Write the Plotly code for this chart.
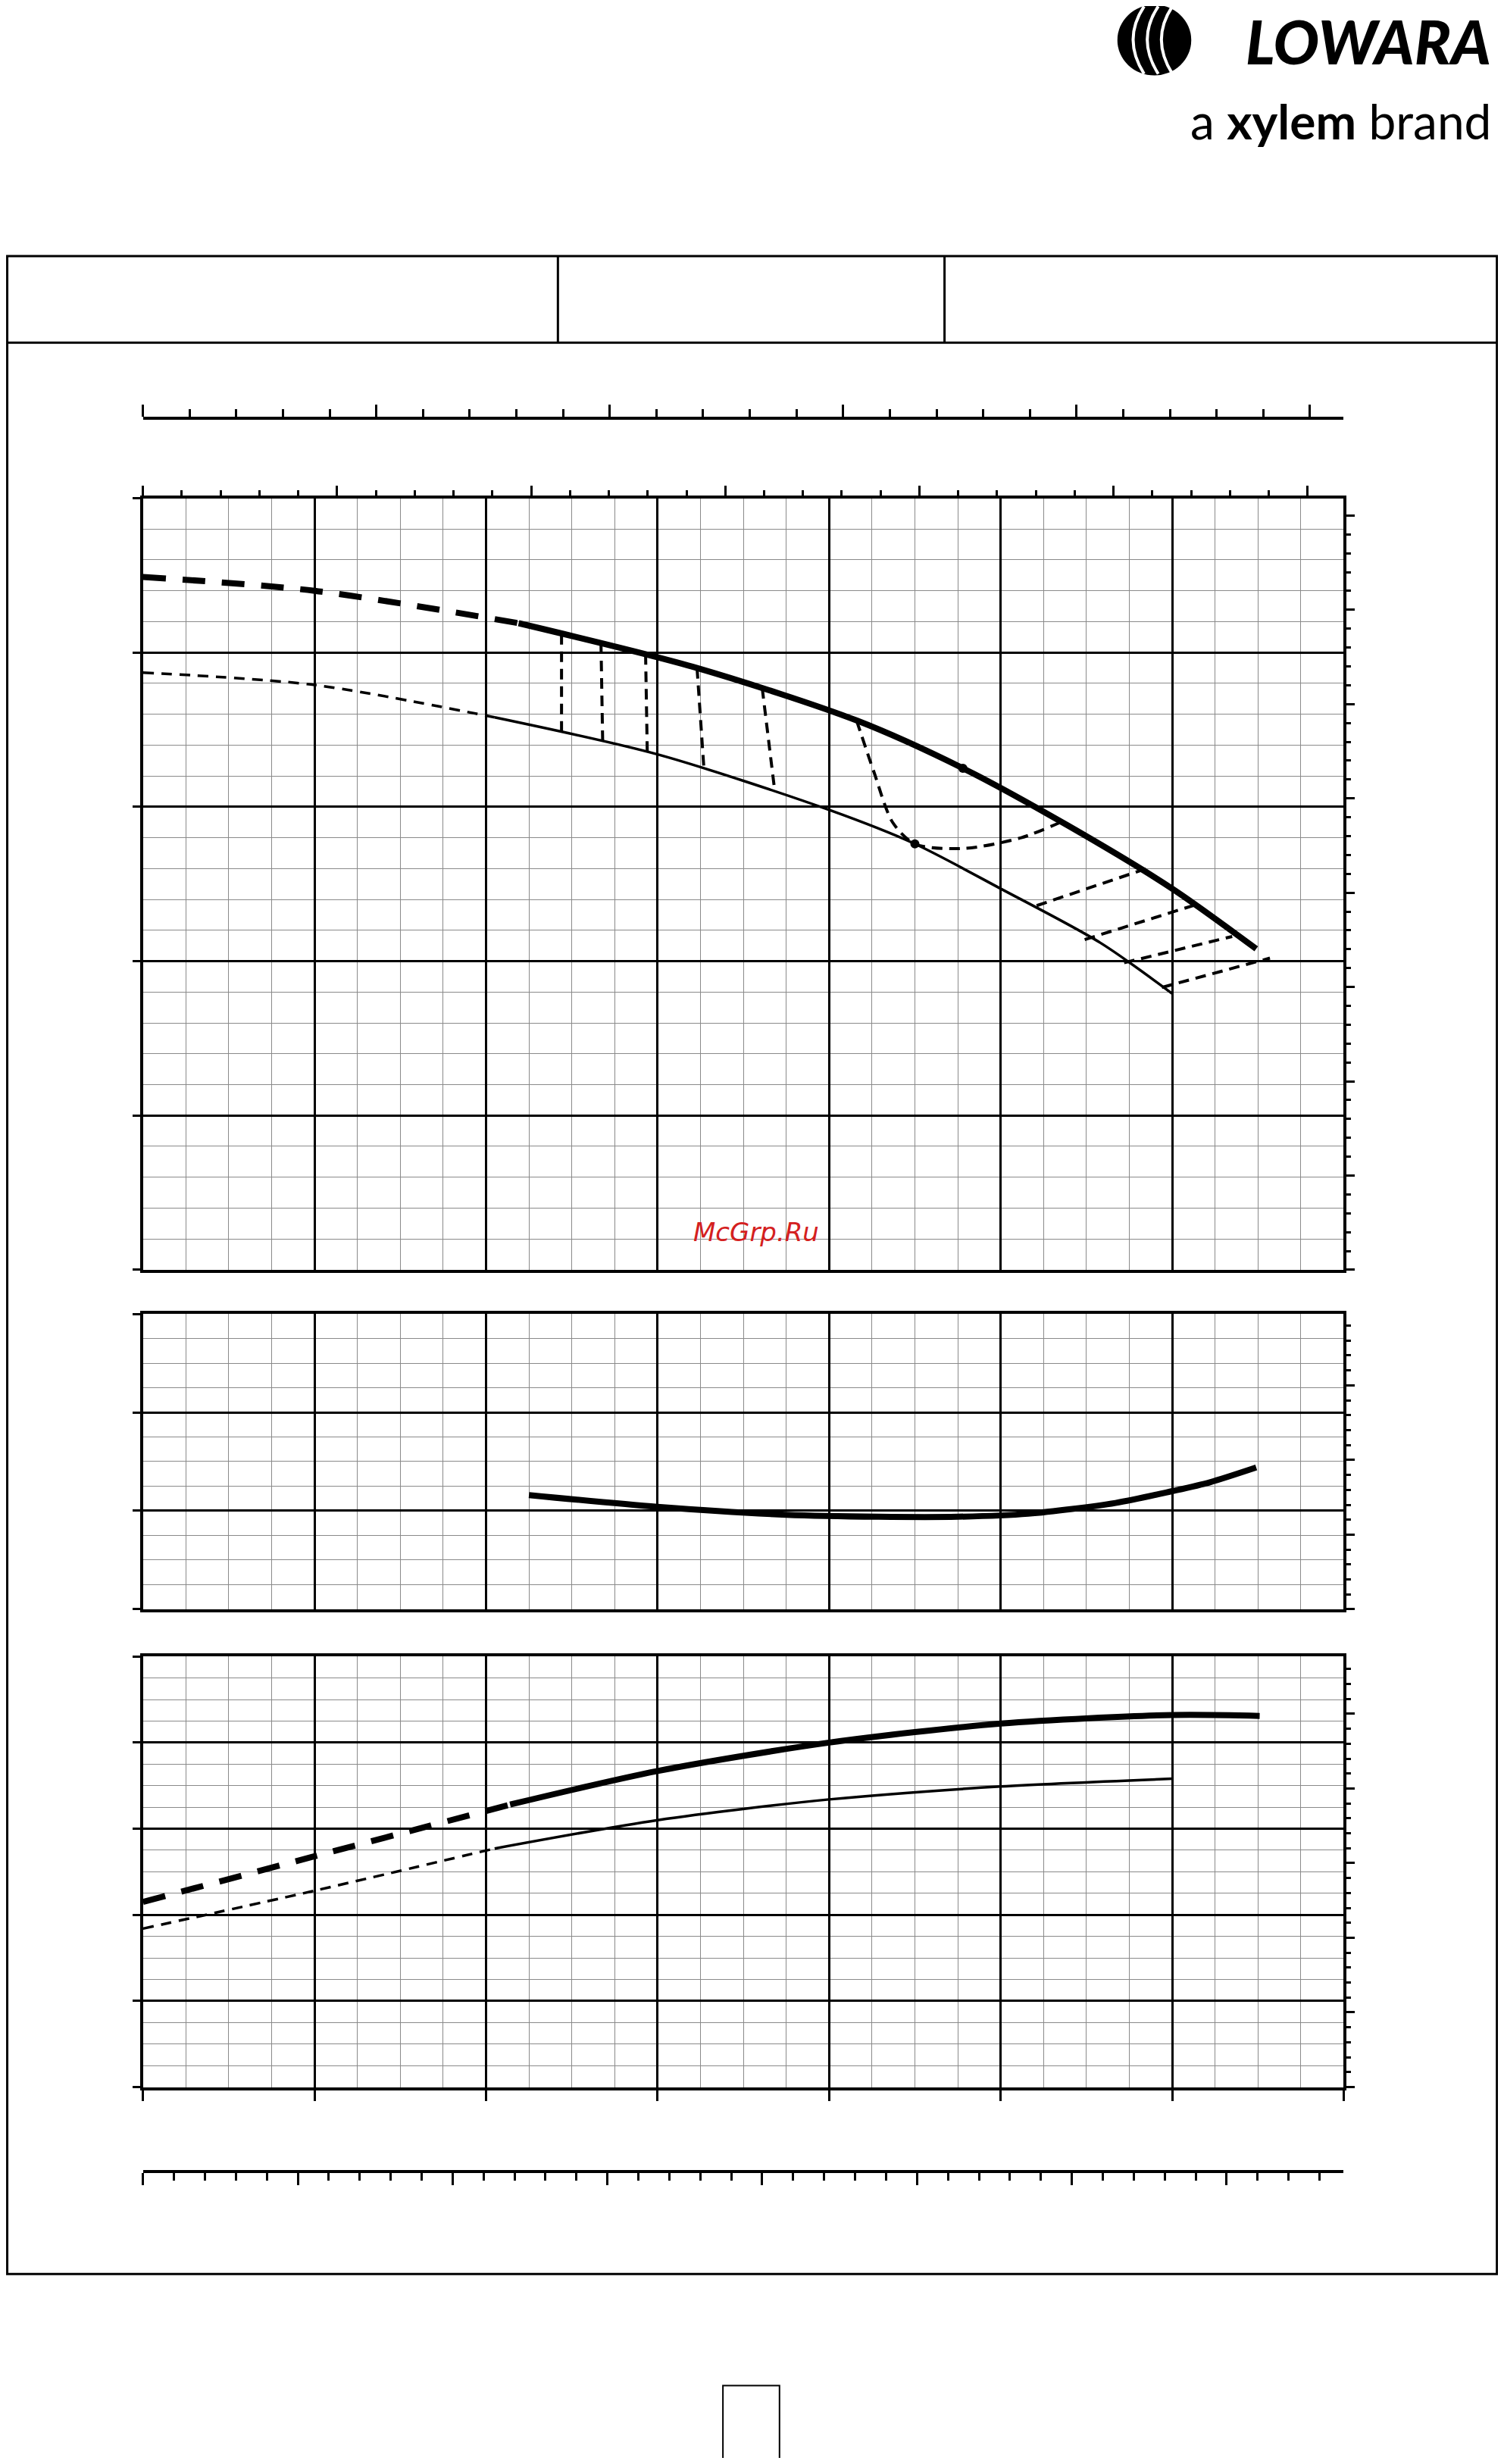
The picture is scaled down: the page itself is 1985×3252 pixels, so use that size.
import plotly.graph_objects as go

W, H = 1985, 3252
OFF = 8
FW, FH = W - 2 * OFF, H - 2 * OFF
F = W / 957.0
def px(d): return (d * F - OFF) / FW
def py(d): return 1 - (d * F - OFF) / FH

# ---------------- data (chart units) ----------------
# Chart 1 : head curves
h_max_dash_x = [0.0, 1.0, 2.19]
h_max_dash_y = [4.49, 4.40, 4.19]
h_max_x = [2.19, 3.23, 4.16, 4.78, 5.39, 6.00, 6.49]
h_max_y = [4.19, 3.90, 3.56, 3.25, 2.88, 2.47, 2.08]
h_min_dash_x = [0.0, 1.0, 2.05]
h_min_dash_y = [3.87, 3.79, 3.58]
h_min_x = [2.05, 3.00, 4.00, 4.50, 5.00, 5.58, 6.00]
h_min_y = [3.58, 3.34, 2.98, 2.76, 2.47, 2.12, 1.79]
# connector lines (iso lines) between curves
iso_x = [[2.44, 2.44], [2.67, 2.68], [2.93, 2.94], [3.23, 3.27], [3.61, 3.68],
         [4.16, 4.26, 4.37, 4.50, 4.78, 5.12, 5.37],
         [5.21, 5.85], [5.49, 6.15], [5.72, 6.35], [5.94, 6.57]]
iso_y = [[4.12, 3.47], [4.06, 3.41], [3.99, 3.34], [3.90, 3.25], [3.77, 3.13],
         [3.56, 3.23, 2.90, 2.76, 2.73, 2.80, 2.91],
         [2.36, 2.60], [2.14, 2.37], [1.99, 2.16], [1.83, 2.02]]
pts_x = [4.78, 4.50]
pts_y = [3.25, 2.76]

# Chart 2 : NPSH
npsh_x = [2.25, 3.00, 3.75, 4.29, 4.75, 5.16, 5.67, 6.00, 6.22, 6.49]
npsh_y = [1.16, 1.04, 0.96, 0.94, 0.94, 0.97, 1.08, 1.20, 1.29, 1.44]

# Chart 3 : power
p_max_dash_x = [0.0, 1.0, 2.14]
p_max_dash_y = [2.15, 2.68, 3.28]
p_max_x = [2.14, 3.00, 4.00, 5.00, 6.00, 6.51]
p_max_y = [3.28, 3.67, 4.00, 4.22, 4.32, 4.31]
p_min_dash_x = [0.0, 1.0, 2.05]
p_min_dash_y = [1.84, 2.28, 2.77]
p_min_x = [2.05, 3.00, 4.00, 5.00, 6.00]
p_min_y = [2.77, 3.10, 3.34, 3.49, 3.58]

fig = go.Figure()

def line(x, y, xa, ya, w, dash="solid", shape="spline"):
    fig.add_trace(go.Scatter(x=x, y=y, xaxis=xa, yaxis=ya, mode="lines",
                             line=dict(color="black", width=w, dash=dash, shape=shape, smoothing=0.8),
                             hoverinfo="skip", showlegend=False))

line(h_max_dash_x, h_max_dash_y, "x", "y", 8, "30px,22px")
line(h_max_x, h_max_y, "x", "y", 8)
line(h_min_dash_x, h_min_dash_y, "x", "y", 3.5, "14px,10px")
line(h_min_x, h_min_y, "x", "y", 3.5)
for ix, iy in zip(iso_x, iso_y):
    line(ix, iy, "x", "y", 4, "14px,9px")
fig.add_trace(go.Scatter(x=pts_x, y=pts_y, mode="markers", marker=dict(color="black", size=12),
                         showlegend=False, hoverinfo="skip"))
line(npsh_x, npsh_y, "x2", "y2", 8)
line(p_max_dash_x, p_max_dash_y, "x3", "y3", 8, "30px,22px")
line(p_max_x, p_max_y, "x3", "y3", 8)
line(p_min_dash_x, p_min_dash_y, "x3", "y3", 3.5, "14px,10px")
line(p_min_x, p_min_y, "x3", "y3", 3.5)
for xa, ya in [("x4", "y4"), ("x5", "y5"), ("x6", "y"), ("x", "y6"), ("x2", "y7"), ("x3", "y8")]:
    fig.add_trace(go.Scatter(x=[None], y=[None], xaxis=xa, yaxis=ya, showlegend=False))

XD = [px(91), px(855)]
def grid_x(anchor, bottom_ticks=False):
    d = dict(domain=XD, range=[0, 7], anchor=anchor, dtick=1, tick0=0, showticklabels=False,
             showgrid=True, gridcolor="black", gridwidth=2.5, showline=True, linecolor="black",
             linewidth=4, mirror=True, zeroline=False, fixedrange=True,
             minor=dict(dtick=0.25, showgrid=True, gridcolor="#8a8a8a", gridwidth=1.2))
    if bottom_ticks:
        d.update(ticks="outside", ticklen=14, tickwidth=3, tickcolor="black")
    return d
def grid_y(top, bot, rng, minor, anchor):
    return dict(domain=[py(bot), py(top)], range=[0, rng], anchor=anchor, dtick=1, tick0=0,
                showticklabels=False, showgrid=True, gridcolor="black", gridwidth=2.5,
                showline=True, linecolor="black", linewidth=4, mirror=True, zeroline=False,
                ticks="outside", ticklen=10, tickwidth=3, tickcolor="black", fixedrange=True,
                minor=dict(dtick=minor, showgrid=True, gridcolor="#8a8a8a", gridwidth=1.2))
def right_ticks(top, bot, overl, dt, anchor):
    h = bot - top
    return dict(domain=[py(bot), py(top)], range=[0, h], overlaying=overl, side="right",
                anchor=anchor, showgrid=False, showticklabels=False, zeroline=False,
                ticks="outside", ticklen=14, tickwidth=3, tickcolor="black", dtick=dt * 5, tick0=0,
                minor=dict(dtick=dt, ticks="outside", ticklen=9, tickwidth=3, tickcolor="black"),
                fixedrange=True)
def tick_axis(rng, side, anchor):
    return dict(domain=XD, range=[0, rng], anchor=anchor, showgrid=False, showticklabels=False,
                zeroline=False, showline=True, linecolor="black", linewidth=4, side=side,
                ticks="outside", ticklen=16, tickwidth=3, tickcolor="black", dtick=1, tick0=0,
                minor=dict(dtick=0.2, ticks="outside", ticklen=10, tickwidth=3, tickcolor="black"),
                fixedrange=True)

layout = dict(width=FW, height=FH, margin=dict(l=0, r=0, t=0, b=0),
              paper_bgcolor="white", plot_bgcolor="rgba(0,0,0,0)", showlegend=False)
layout["xaxis"] = grid_x("y")
layout["yaxis"] = grid_y(317, 808, 5, 0.2, "x")
layout["xaxis2"] = grid_x("y2")
layout["yaxis2"] = grid_y(836, 1024, 3, 0.25, "x2")
layout["xaxis3"] = grid_x("y3", bottom_ticks=True)
layout["yaxis3"] = grid_y(1054, 1328, 5, 0.25, "x3")
layout["xaxis4"] = tick_axis(764 / 148.5, "top", "y4")
layout["yaxis4"] = dict(domain=[py(268), py(267)], range=[0, 1], visible=False, anchor="x4")
layout["xaxis5"] = tick_axis(764 / 98.5, "bottom", "y5")
layout["yaxis5"] = dict(domain=[py(1381), py(1380)], range=[0, 1], visible=False, anchor="x5")
ax6 = tick_axis(764 / 123.5, "top", "y"); ax6.update(overlaying="x", showline=False)
layout["xaxis6"] = ax6
layout["yaxis6"] = right_ticks(317, 808, "y", 12, "x")
layout["yaxis7"] = right_ticks(836, 1024, "y2", 9.5, "x2")
layout["yaxis8"] = right_ticks(1054, 1328, "y3", 9.5, "x3")
fig.update_layout(**layout)

shapes = []
def rect(x0, y0, x1, y1, **kw):
    d = dict(type="rect", xref="paper", yref="paper", x0=px(x0), x1=px(x1), y0=py(y1), y1=py(y0))
    d.update(kw)
    shapes.append(d)
def seg(x0, y0, x1, y1, w=3):
    shapes.append(dict(type="line", xref="paper", yref="paper", x0=px(x0), x1=px(x1),
                       y0=py(y0), y1=py(y1), line=dict(color="black", width=w)))
rect(4.6, 163, 952.5, 1447, line=dict(color="black", width=3))
seg(4.6, 218, 952.5, 218)
seg(355, 163, 355, 218)
seg(601, 163, 601, 218)
rect(460, 1518, 496, 1575, line=dict(color="black", width=2))
for (a, b, c, d) in [(540, 342, 576, 362), (345, 372, 378, 394), (386, 384, 428, 408), (428, 394, 462, 418),
                     (474, 405, 502, 425), (530, 430, 562, 452), (614, 457, 656, 480), (680, 500, 716, 524),
                     (728, 530, 770, 554), (758, 548, 792, 570), (790, 574, 842, 600), (796, 618, 842, 642),
                     (740, 646, 820, 670), (562, 540, 600, 566),
                     (765, 893, 842, 922), (770, 1115, 852, 1140), (705, 1150, 786, 1176)]:
    rect(a, b, c, d, line=dict(width=0), fillcolor="white", layer="between")
# logo mark
shapes.append(dict(type="circle", xref="paper", yref="paper", x0=px(711), x1=px(758),
                   y0=py(48), y1=py(3), fillcolor="black", line=dict(width=0)))
for off in [0, 9, 18]:
    x0 = 720 + off
    shapes.append(dict(type="path", xref="paper", yref="paper",
                       path=f"M {px(x0+8)} {py(4)} Q {px(x0-6)} {py(25)} {px(x0+8)} {py(47)}",
                       line=dict(color="white", width=4)))
fig.update_layout(shapes=shapes)

fig.add_annotation(x=px(950), y=py(26), xref="paper", yref="paper", xanchor="right", yanchor="middle",
                   text="LOWARA", showarrow=False,
                   font=dict(family="Lato", size=80, color="black", weight=900, style="italic"))
fig.add_annotation(x=px(950), y=py(77), xref="paper", yref="paper", xanchor="right", yanchor="middle",
                   text="a <b>xylem</b> brand", showarrow=False,
                   font=dict(family="Lato", size=64, color="black"))
fig.add_annotation(x=px(481), y=py(784), xref="paper", yref="paper", xanchor="center", yanchor="middle",
                   text="<i>McGrp.Ru</i>", showarrow=False,
                   font=dict(family="DejaVu Sans", size=34, color="#d42020"))

fig.write_html("out.html")
